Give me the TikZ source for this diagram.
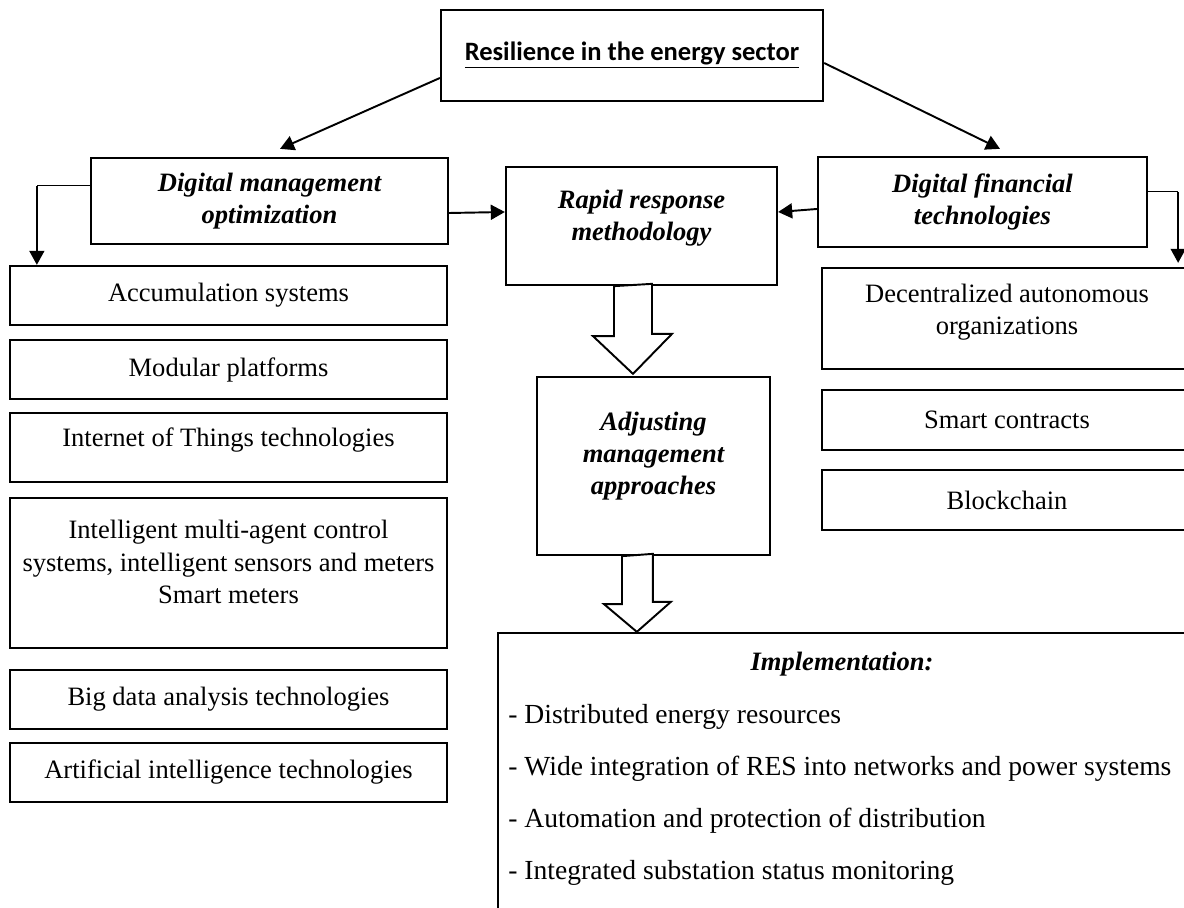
\documentclass[tikz,border=0pt]{standalone}
\usepackage{fontspec}
\setmainfont{Liberation Serif}
\newfontfamily\headfont{Carlito}
\usetikzlibrary{arrows.meta,calc}

\newcommand\boxfont{\fontsize{15.1}{18.3}\selectfont}
\newcommand\listfont{\fontsize{15.7}{19}\selectfont}

\begin{document}
\begin{tikzpicture}[x=0.02cm, y=-0.02cm,
    box/.style 2 args={draw, line width=1.3pt, fill=white, inner sep=0pt,
      minimum width=#1*0.02cm, minimum height=#2*0.02cm, align=center, font=\boxfont},
    heading/.style={font=\boxfont\bfseries\itshape},
    txt/.style={inner sep=0pt, align=center, font=\boxfont},
    listitem/.style={inner sep=0pt, anchor=west, font=\listfont},
    arr/.style={-{Triangle[length=8pt,width=8.5pt]}, line width=1.1pt},
    thinline/.style={line width=0.6pt},
    hollow/.style={draw, fill=white, line width=1.1pt, line join=miter}]
      \clip (0,0) rectangle (1184,908);

      % top of the tree
      \node[box={382}{91}, font=\headfont\boxfont\bfseries] (title) at (632,55.5) {\underline{Resilience in the energy sector}};

      \node[box={357}{86}, heading] (dmo) at (269.5,201) {Digital management\\optimization};
      \node[box={271}{118}] (rrm) at (641.5,226) {};
      \node[txt, heading] (rrmtext) at (641.5,218) {Rapid response\\methodology};
      \node[box={329}{90}, heading] (dft) at (982.5,202) {Digital financial\\technologies};

      % left column
      \node[box={437}{59}] (acc) at (228.5,295.5) {Accumulation systems};
      \node[box={437}{59}] (mod) at (228.5,369.5) {Modular platforms};
      \node[box={437}{69}] (iot) at (228.5,447.5) {};
      \node[txt] (iottext) at (228.5,440) {Internet of Things technologies};
      \node[box={437}{150}] (mas) at (228.5,573) {};
      \node[txt] (mastext) at (228.5,562) {Intelligent multi-agent control\\systems, intelligent sensors and meters\\Smart meters};
      \node[box={437}{59}] (big) at (228.5,699.5) {Big data analysis technologies};
      \node[box={437}{59}] (ai) at (228.5,772.5) {Artificial intelligence technologies};

      % right column
      \node[box={370}{101}] (dao) at (1007,318.5) {};
      \node[txt] (daotext) at (1007,312.5) {Decentralized autonomous\\organizations};
      \node[box={370}{60}] (sc) at (1007,420) {Smart contracts};
      \node[box={370}{60}] (bc) at (1007,500) {Blockchain};

      % middle
      \node[box={233}{178}] (adj) at (653.5,466) {};
      \node[txt, heading] (adjtext) at (653.5,456) {Adjusting\\management\\approaches};
      \node[box={690}{297}] (imp) at (843,781.5) {};
      \node[txt, heading] (imptitle) at (842,664) {Implementation:};
      \node[listitem] (item1) at (508,717) {- Distributed energy resources};
      \node[listitem] (item2) at (508,769) {- Wide integration of RES into networks and power systems};
      \node[listitem] (item3) at (508,821) {- Automation and protection of distribution};
      \node[listitem] (item4) at (508,873) {- Integrated substation status monitoring};

      \draw[arr] ($(title.west)+(0,22.5)$) -- ($(dmo.north)+(10.5,-8)$);
      \draw[arr] ($(title.east)+(0,7.5)$) -- ($(dft.north)+(17.5,-7)$);
      \draw[arr] ($(dmo.east)+(0,12)$) -- ($(rrm.west)+(0,-14)$);
      \draw[arr] ($(dft.west)+(0,7)$) -- ($(rrm.east)+(0,-14)$);

      \draw[thinline] ($(dmo.north west)+(0,29)$) -- ++(-53,0) coordinate (lcorner);
      \draw[arr] (lcorner) -- (lcorner |- acc.north);
      \draw[thinline] ($(dft.north east)+(0,36)$) -- ++(30,0) coordinate (rcorner);
      \draw[arr] (rcorner) -- ($(rcorner |- dao.north)+(0,-4)$);

      % block arrows
      \draw[hollow] ($(rrm.south)+(-27.5,0)$) -- ++(0,50) -- ++(-21,0)
        -- ($(adj.north)+(-20.5,-2)$) -- ++(39,-40) -- ++(-20,0) -- ++(0,-50) -- cycle;
      \draw[hollow] ($(adj.south)+(-31.5,0)$) -- ++(0,48) -- ++(-18,0)
        -- ($(imp.north west)+(140,0)$) -- ++(34,-30) -- ++(-18,0) -- ++(0,-48) -- cycle;
    \end{tikzpicture}
\end{document}
